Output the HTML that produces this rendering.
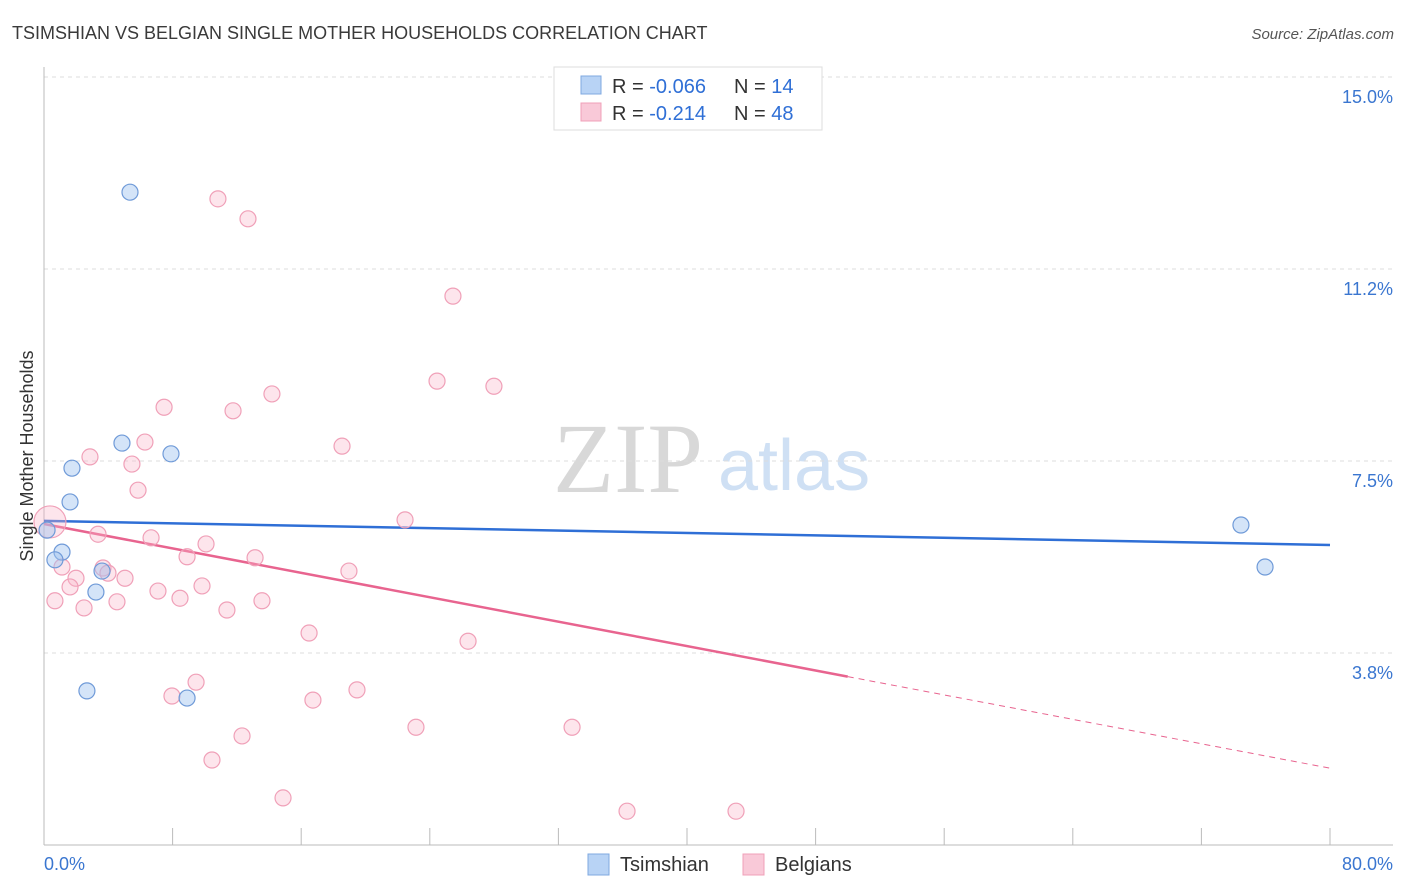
<!DOCTYPE html>
<html><head><meta charset="utf-8"><style>
body{margin:0;background:#fff;font-family:"Liberation Sans",sans-serif;}
svg{display:block}
</style></head><body>
<svg id="chart" width="1406" height="892">
<text x="12" y="39" font-size="18" fill="#3a3a3a">TSIMSHIAN VS BELGIAN SINGLE MOTHER HOUSEHOLDS CORRELATION CHART</text>
<text x="1394" y="39" font-size="15" fill="#555" font-style="italic" text-anchor="end">Source: ZipAtlas.com</text>
<g>
<text x="553" y="492" font-size="100" fill="#d8d8d8" font-family="Liberation Serif,serif">ZIP</text>
<text x="718" y="490" font-size="72" fill="#cfe0f4">atlas</text>
</g>
<g id="grid"></g>
<g id="axes"></g>
<g id="lines"></g>
<g id="pts"></g>
<text x="33" y="456" font-size="18" fill="#333" transform="rotate(-90 33 456)" text-anchor="middle">Single Mother Households</text>
<g>
<rect x="554" y="67" width="268" height="63" fill="#fff" stroke="#ddd"/>
<rect x="581" y="76" width="20" height="18" fill="#b8d3f5" stroke="#7fa8e0"/>
<rect x="581" y="103" width="20" height="18" fill="#f9c9d8" stroke="#f0a0b8"/>
<text x="612" y="93" font-size="20" fill="#333">R = <tspan fill="#2f6fd6">-0.066</tspan></text>
<text x="734" y="93" font-size="20" fill="#333">N = <tspan fill="#2f6fd6"> 14</tspan></text>
<text x="612" y="120" font-size="20" fill="#333">R = <tspan fill="#2f6fd6"> -0.214</tspan></text>
<text x="734" y="120" font-size="20" fill="#333">N = <tspan fill="#2f6fd6">48</tspan></text>
</g>
<g>
<rect x="588" y="854" width="21" height="21" fill="#b8d3f5" stroke="#7fa8e0"/>
<text x="620" y="871" font-size="20" fill="#333">Tsimshian</text>
<rect x="743" y="854" width="21" height="21" fill="#f9c9d8" stroke="#f0a0b8"/>
<text x="775" y="871" font-size="20" fill="#333">Belgians</text>
</g>
</svg>
<script>
const yTicks=[3.75,7.5,11.25,15];
const yTickLabels=["3.8%","7.5%","11.2%","15.0%"];
const xEnds=["0.0%","80.0%"];
const tsX=[5.35,4.85,7.90,1.74,1.62,0.19,1.12,0.68,3.61,3.23,2.67,8.90,74.46,75.96];
const tsY=[12.75,7.85,7.64,7.36,6.70,6.15,5.72,5.57,5.35,4.94,3.01,2.87,6.25,5.43];
const beX=[10.82,12.69,25.44,24.45,27.99,14.18,7.47,11.76,6.28,18.54,2.86,5.47,5.85,22.46,3.36,6.66,10.08,8.90,13.13,3.67,1.12,18.97,3.98,5.04,1.99,1.62,9.83,7.09,8.46,13.56,0.68,4.54,2.49,11.38,16.49,26.38,9.46,19.47,7.96,16.73,23.14,32.85,12.32,10.45,14.87,36.27,43.05,0.37];
const beY=[12.62,12.23,10.72,9.06,8.96,8.81,8.55,8.48,7.87,7.79,7.58,7.44,6.93,6.35,6.07,6.00,5.88,5.63,5.61,5.41,5.43,5.35,5.31,5.21,5.21,5.04,5.06,4.96,4.82,4.77,4.77,4.75,4.63,4.59,4.14,3.98,3.18,3.03,2.91,2.83,2.30,2.30,2.13,1.66,0.92,0.66,0.66,6.31];
const tsTrend=[6.33,5.86];
const beTrend=[6.27,1.50];
const beSolidEnd=50;
const NS="http://www.w3.org/2000/svg";
const X=v=>44+v*16.075, Y=v=>845-v*51.2;
function mk(t,a,p){const e=document.createElementNS(NS,t);for(const k in a)e.setAttribute(k,a[k]);document.getElementById(p).appendChild(e);return e;}
yTicks.forEach((t,i)=>{
 const g=mk('line',{x1:44,x2:1393,y1:Y(t),y2:Y(t),stroke:'#ddd','stroke-dasharray':'4,4'},'grid');
 
 
 const l=mk('text',{x:1393,y:Y(t)+26,'font-size':18,fill:'#3a76d0','text-anchor':'end'},'grid');
 l.textContent=yTickLabels[i];
 
 
});
const ax=mk('line',{x1:44,x2:44,y1:67,y2:845,stroke:'#bbb'},'axes');


const bx=mk('line',{x1:44,x2:1393,y1:845,y2:845,stroke:'#bbb'},'axes');


for(let i=0;i<=10;i++){
 const t=mk('line',{x1:X(i*8),x2:X(i*8),y1:828,y2:845,stroke:'#bbb'},'axes');
 
 
}
[[0,44,'start'],[80,1393,'end']].forEach((d,i)=>{
 const t=mk('text',{x:d[1],y:870,'font-size':18,fill:'#3a76d0','text-anchor':d[2]},'axes');
 t.textContent=xEnds[i];
 
 
});
const l1=mk('line',{x1:X(0),y1:Y(tsTrend[0]),x2:X(80),y2:Y(tsTrend[1]),stroke:'#2f6fd6','stroke-width':2.5},'lines');


const bAt=v=>beTrend[0]+(beTrend[1]-beTrend[0])*v/80;
const l2=mk('line',{x1:X(0),y1:Y(beTrend[0]),x2:X(beSolidEnd),y2:Y(bAt(beSolidEnd)),stroke:'#e8648f','stroke-width':2.5},'lines');


const l3=mk('line',{x1:X(beSolidEnd),y1:Y(bAt(beSolidEnd)),x2:X(80),y2:Y(beTrend[1]),stroke:'#e8648f','stroke-width':1,'stroke-dasharray':'6,5'},'lines');


beX.forEach((x,i)=>{
 const r=i===beX.length-1?16:8;
 const c=mk('circle',{cx:X(x),cy:Y(beY[i]),r:r,fill:'rgba(248,180,200,0.35)',stroke:'#f0a0b8','stroke-width':1.2},'pts');
 
 
});
tsX.forEach((x,i)=>{
 const c=mk('circle',{cx:X(x),cy:Y(tsY[i]),r:8,fill:'rgba(160,196,240,0.45)',stroke:'#6f9ad8','stroke-width':1.2},'pts');
 
 
});
</script>
</body></html>
